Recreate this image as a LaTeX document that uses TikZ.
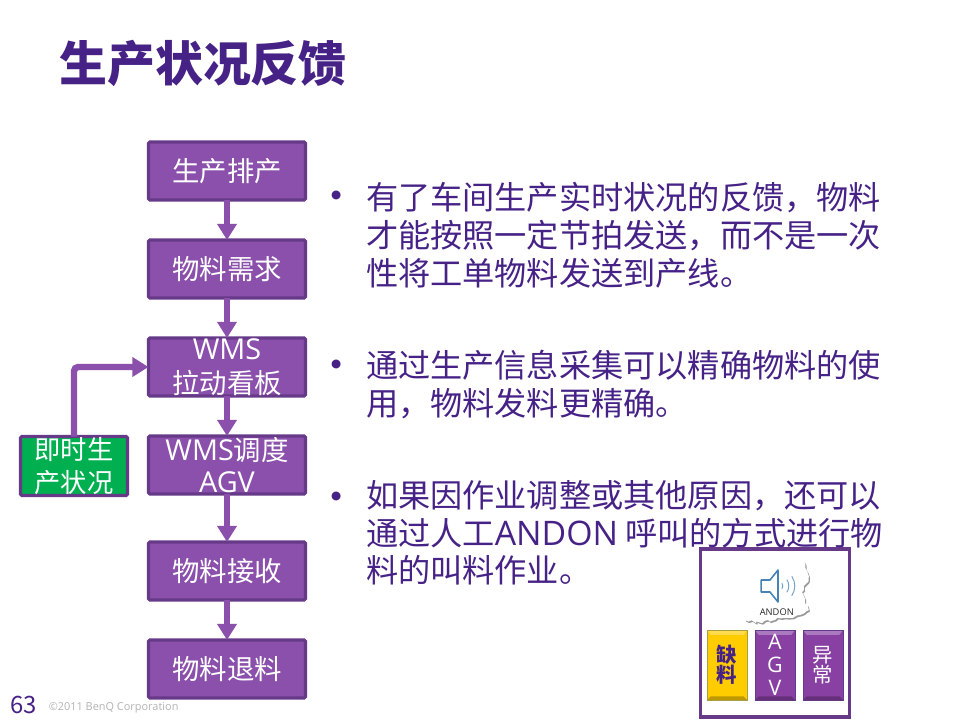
\documentclass[tikz,border=0pt]{standalone}
\usepackage{fontspec}
\setmainfont{Noto Sans CJK SC}
\newfontfamily\latin[Scale=1.05]{Open Sans}
\usepackage{xcolor}
\usetikzlibrary{arrows.meta,positioning,calc,shadows,decorations.pathmorphing}
\definecolor{benqink}{RGB}{70,34,135}
\definecolor{boxfill}{RGB}{138,80,171}
\definecolor{boxline}{RGB}{102,58,136}
\definecolor{livefill}{RGB}{0,176,80}
\definecolor{btnyellow}{RGB}{255,204,0}
\definecolor{hornblue}{RGB}{70,130,180}

\begin{document}
\begin{tikzpicture}[
  every node/.style={inner sep=0pt, outer sep=0pt},
  stepbox/.style={draw=boxline, line width=2.2pt, rounded corners=1pt, fill=boxfill,
             minimum width=3.925cm, minimum height=1.45cm, align=center, text=white,
             font=\fontsize{19.5}{22.5}\selectfont},
  livebox/.style={stepbox, fill=livefill, minimum width=2.675cm, minimum height=1.475cm,
             font=\fontsize{18.7}{23}\selectfont},
  para/.style={anchor=north west, align=left, text=benqink,
             font=\fontsize{22.9}{27}\selectfont},
  dotmark/.style={text=benqink, font=\fontsize{30}{30}\selectfont},
  btn/.style 2 args={draw=#2, line width=0.6pt, fill=#1, drop shadow={shadow xshift=0.5pt,
             shadow yshift=-0.8pt, opacity=0.35}, minimum width=1.0cm, minimum height=1.75cm,
             align=center, font=\fontsize{14.5}{14.4}\selectfont,
             path picture={
               \fill[white, opacity=0.3] (path picture bounding box.north west) -- (path picture bounding box.north east)
                 -- ++(-0.09,-0.12) -- ($(path picture bounding box.north west)+(0.09,-0.12)$) -- cycle;
               \fill[black, opacity=0.25] (path picture bounding box.south west) -- (path picture bounding box.south east)
                 -- ++(-0.09,0.09) -- ($(path picture bounding box.south west)+(0.09,0.09)$) -- cycle;
             }},
  arrow/.style={-{Triangle[length=11.5pt, width=13.5pt]}, line width=4.6pt, draw=boxfill, color=boxfill},
]
\useasboundingbox (0,0) rectangle (24,18);

%% Title
\node[anchor=west, text=benqink, font=\fontsize{34.1}{40}\selectfont\bfseries] (title) at (1.48, 16.42) {生产状况反馈};

%% Flow column
\node[stepbox] (plan) at (5.675, 13.725) {生产排产};
\node[stepbox] (demand) at (5.675, 11.275) {物料需求};
\node[stepbox, font=\fontsize{19.5}{24}\selectfont] (kanban) at (5.675, 8.825) {{\latin WMS}\\拉动看板};
\node[stepbox] (agv) at (5.675, 6.375) {{\latin WMS}调度\\{\latin AGV}};
\node[stepbox] (receive) at (5.675, 3.725) {物料接收};
\node[stepbox] (giveback) at (5.675, 1.275) {物料退料};

%% Live status
\node[livebox] (live) at (1.85, 6.35) {即时生\\产状况};

%% Connections
\draw[arrow] (plan) -- (demand);
\draw[arrow] (demand) -- (kanban);
\draw[arrow] (kanban) -- (agv);
\draw[arrow] (agv) -- (receive);
\draw[arrow] (receive) -- (giveback);
\draw[arrow, rounded corners=3pt] (live.north) |- (kanban.west);

%% Bullets
\node[dotmark] (dota) at (8.42, 12.97) {•};
\node[para] (texta) at (9.15, 13.45)
  {有了车间生产实时状况的反馈，物料\\才能按照一定节拍发送，而不是一次\\性将工单物料发送到产线。};
\node[dotmark] (dotb) at (8.42, 8.75) {•};
\node[para] (textb) at (9.15, 9.25)
  {通过生产信息采集可以精确物料的使\\用，物料发料更精确。};
\node[dotmark] (dotc) at (8.42, 5.45) {•};
\node[para] (textc) at (9.15, 6.0)
  {如果因作业调整或其他原因，还可以\\通过人工{\latin ANDON} 呼叫的方式进行物\\料的叫料作业。};

%% ANDON panel
\node[draw=boxline, line width=2.2pt, fill=white, minimum width=3.725cm, minimum height=4.2cm] (panel) at (19.375, 2.175) {};
\pgfmathsetseed{7}
\fill[white, drop shadow={shadow xshift=0.8pt, shadow yshift=-1.1pt, opacity=0.8}, decoration={random steps, segment length=2.5pt, amplitude=1.3pt}]
  (18.625, 4) -- (20.1, 3.97) decorate {-- (20.22, 3.6) -- (20.05, 3.2) -- (20.22, 2.75) -- (19.7, 2.55) -- (19.2, 2.5) -- (18.9, 2.42) -- (18.625, 2.5)} -- cycle;
\draw[draw=hornblue, line width=1.1pt, fill=white, line join=round]
  (19.03, 3.5) -- (19.25, 3.5) -- (19.45, 3.75) -- (19.45, 2.95) -- (19.25, 3.2) -- (19.03, 3.2) -- cycle;
\foreach \rad in {0.12,0.27,0.42} {
  \draw[hornblue!75, line width=0.7pt] ($(19.45,3.35)+(-35:\rad)$) arc (-35:35:\rad);
}
\node[font=\latin\fontsize{6.3}{8}\selectfont, text=black!85] (andon) at (19.42, 2.7) {ANDON};

%% Buttons
\node[btn={btnyellow}{yellow!60!black}, text=benqink, font=\fontsize{14.5}{14.4}\selectfont\bfseries] (lack) at (18.175, 1.375) {缺\\料};
\node[btn={boxfill!80!violet}{boxline}, text=white, font=\latin\fontsize{14.5}{16.2}\selectfont] (call) at (19.375, 1.375) {A\\G\\V};
\node[btn={boxfill!80!violet}{boxline}, text=white] (odd) at (20.575, 1.375) {异\\常};

%% Footer
\node[anchor=west, text=benqink, font=\fontsize{17}{20}\selectfont] (page) at (0.25, 0.37) {63};
\node[anchor=west, text=gray!60, font=\latin\fontsize{7.4}{10}\selectfont] (copy) at (1.22, 0.3) {©2011 BenQ Corporation};

\end{tikzpicture}
\end{document}
